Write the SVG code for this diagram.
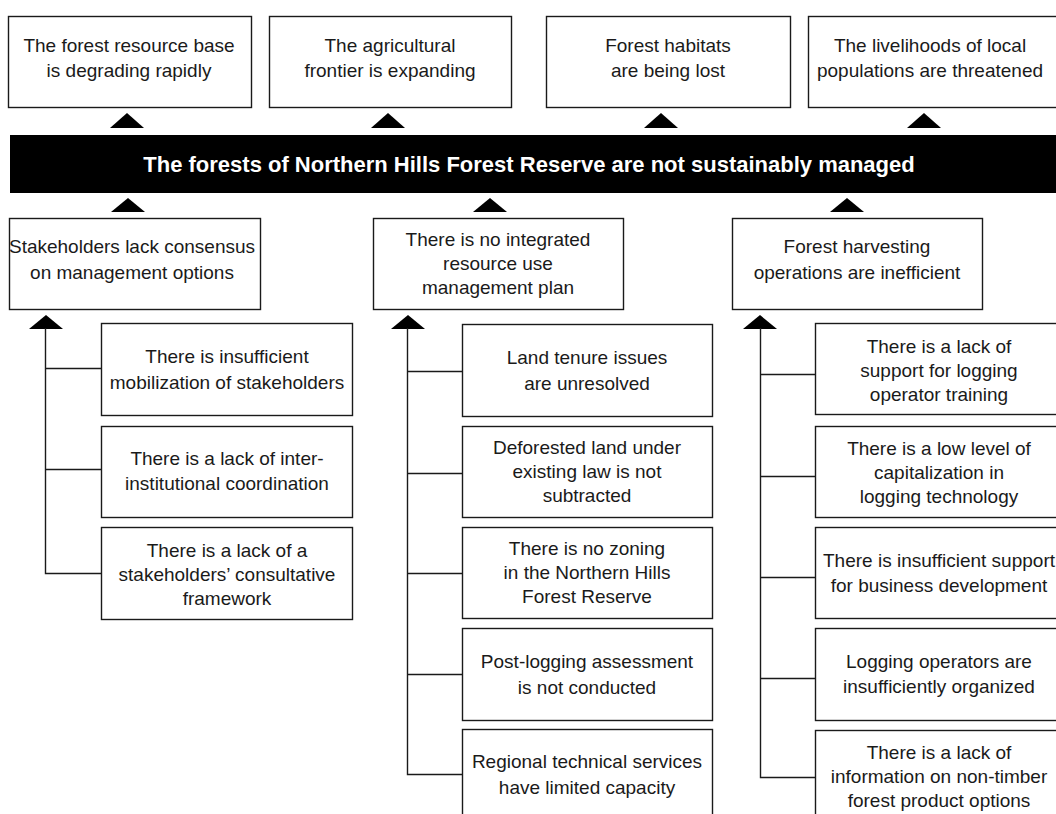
<svg xmlns="http://www.w3.org/2000/svg" width="1056" height="814" viewBox="0 0 1056 814">
<defs>
<style>
.box{fill:#fff;stroke:#1a1a1a;stroke-width:1.4}
.t{font-family:"Liberation Sans",Arial,sans-serif;font-size:19px;fill:#1a1a1a;text-anchor:middle}
.title{font-family:"Liberation Sans",Arial,sans-serif;font-size:22px;font-weight:bold;fill:#fff;text-anchor:middle}
.ln{fill:none;stroke:#1a1a1a;stroke-width:1.4}
.ah{fill:#000}
</style>
</defs>
<rect width="1056" height="814" fill="#fff"/>

<g id="effect1"><rect class="box" x="8.5" y="16.5" width="243" height="91"/>
<text class="t" x="129" y="52">The forest resource base</text><text class="t" x="129" y="77">is degrading rapidly</text></g>
<g id="effect2"><rect class="box" x="269.5" y="16.5" width="242" height="91"/>
<text class="t" x="390" y="52">The agricultural</text><text class="t" x="390" y="77">frontier is expanding</text></g>
<g id="effect3"><rect class="box" x="546.5" y="16.5" width="244" height="91"/>
<text class="t" x="668" y="52">Forest habitats</text><text class="t" x="668" y="77">are being lost</text></g>
<g id="effect4"><rect class="box" x="808.5" y="16.5" width="254" height="91"/>
<text class="t" x="930" y="52">The livelihoods of local</text><text class="t" x="930" y="77">populations are threatened</text></g>

<g id="core"><rect x="10" y="135" width="1056" height="58" fill="#000"/>
<text class="title" x="529" y="172">The forests of Northern Hills Forest Reserve are not sustainably managed</text></g>

<g id="cause1"><rect class="box" x="9.5" y="218.5" width="251" height="91"/>
<text class="t" x="132" y="253">Stakeholders lack consensus</text><text class="t" x="132" y="279">on management options</text></g>
<g id="cause2"><rect class="box" x="373.5" y="218.5" width="250" height="91"/>
<text class="t" x="498" y="246">There is no integrated</text><text class="t" x="498" y="270">resource use</text><text class="t" x="498" y="294">management plan</text></g>
<g id="cause3"><rect class="box" x="732.5" y="218.5" width="250" height="91"/>
<text class="t" x="857" y="253">Forest harvesting</text><text class="t" x="857" y="279">operations are inefficient</text></g>

<g id="l1"><rect class="box" x="101.5" y="323.5" width="251" height="92"/>
<text class="t" x="227" y="363">There is insufficient</text><text class="t" x="227" y="389">mobilization of stakeholders</text></g>
<g id="l2"><rect class="box" x="101.5" y="426.5" width="251" height="91"/>
<text class="t" x="227" y="465">There is a lack of inter-</text><text class="t" x="227" y="490">institutional coordination</text></g>
<g id="l3"><rect class="box" x="101.5" y="527.5" width="251" height="92"/>
<text class="t" x="227" y="557">There is a lack of a</text><text class="t" x="227" y="581">stakeholders’ consultative</text><text class="t" x="227" y="605">framework</text></g>

<g id="m1"><rect class="box" x="462.5" y="324.5" width="250" height="92"/>
<text class="t" x="587" y="364">Land tenure issues</text><text class="t" x="587" y="390">are unresolved</text></g>
<g id="m2"><rect class="box" x="462.5" y="426.5" width="250" height="91"/>
<text class="t" x="587" y="454">Deforested land under</text><text class="t" x="587" y="478">existing law is not</text><text class="t" x="587" y="502">subtracted</text></g>
<g id="m3"><rect class="box" x="462.5" y="527.5" width="250" height="91"/>
<text class="t" x="587" y="555">There is no zoning</text><text class="t" x="587" y="579">in the Northern Hills</text><text class="t" x="587" y="603">Forest Reserve</text></g>
<g id="m4"><rect class="box" x="462.5" y="628.5" width="250" height="92"/>
<text class="t" x="587" y="668">Post-logging assessment</text><text class="t" x="587" y="694">is not conducted</text></g>
<g id="m5"><rect class="box" x="462.5" y="729.5" width="250" height="92"/>
<text class="t" x="587" y="768">Regional technical services</text><text class="t" x="587" y="794">have limited capacity</text></g>

<g id="r1"><rect class="box" x="815.5" y="323.5" width="250" height="91"/>
<text class="t" x="939" y="353">There is a lack of</text><text class="t" x="939" y="377">support for logging</text><text class="t" x="939" y="401">operator training</text></g>
<g id="r2"><rect class="box" x="815.5" y="426.5" width="250" height="91"/>
<text class="t" x="939" y="455">There is a low level of</text><text class="t" x="939" y="479">capitalization in</text><text class="t" x="939" y="503">logging technology</text></g>
<g id="r3"><rect class="box" x="815.5" y="527.5" width="250" height="91"/>
<text class="t" x="939" y="567">There is insufficient support</text><text class="t" x="939" y="592">for business development</text></g>
<g id="r4"><rect class="box" x="815.5" y="628.5" width="250" height="92"/>
<text class="t" x="939" y="668">Logging operators are</text><text class="t" x="939" y="693">insufficiently organized</text></g>
<g id="r5"><rect class="box" x="815.5" y="730.5" width="250" height="92"/>
<text class="t" x="939" y="759">There is a lack of</text><text class="t" x="939" y="783">information on non-timber</text><text class="t" x="939" y="807">forest product options</text></g>

<g id="connectors">
<polygon class="ah" points="110,128 127,113 144,128"/>
<polygon class="ah" points="371,128 388,113 405,128"/>
<polygon class="ah" points="644,128 661,113 678,128"/>
<polygon class="ah" points="907,128 924,113 941,128"/>
<polygon class="ah" points="111,212 128,198 145,212"/>
<polygon class="ah" points="473,212 490,198 507,212"/>
<polygon class="ah" points="830,212 847,198 864,212"/>
<polygon class="ah" points="29,329 46,315 63,329"/>
<polygon class="ah" points="391,329 408,315 425,329"/>
<polygon class="ah" points="743,329 760,315 777,329"/>
<path class="ln" d="M45.5,328V573.5H101.5M45.5,368.5H101.5M45.5,469.5H101.5"/>
<path class="ln" d="M407.5,328V774.5H462.5M407.5,371.5H462.5M407.5,473.5H462.5M407.5,573.5H462.5M407.5,674.5H462.5"/>
<path class="ln" d="M760.5,328V777.5H815.5M760.5,374.5H815.5M760.5,476.5H815.5M760.5,577.5H815.5M760.5,678.5H815.5"/>
</g>
</svg>
